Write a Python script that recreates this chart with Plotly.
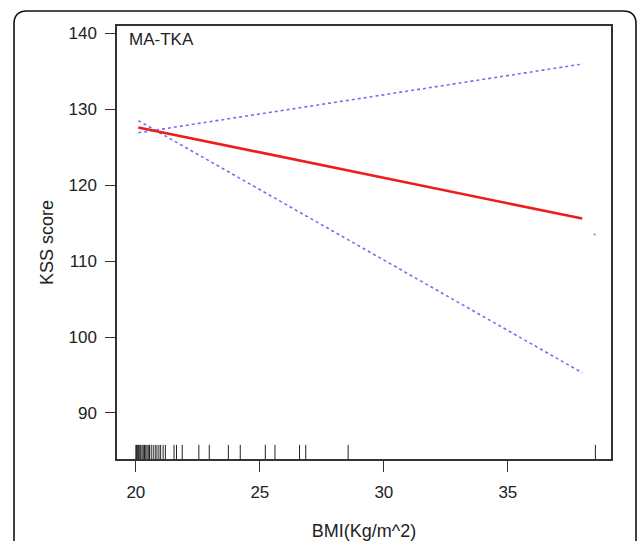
import plotly.graph_objects as go

# ---- data ----
fit_x = [20.1, 38.0]
fit_y = [127.6, 115.6]
upper_x = [20.1, 37.9]
upper_y = [126.9, 135.9]
lower_x = [20.1, 38.0]
lower_y = [128.5, 95.3]
point_x = [38.5]
point_y = [113.5]
rug_x = [20.0, 20.03, 20.06, 20.1, 20.13, 20.17, 20.2, 20.25, 20.3, 20.35, 20.4,
         20.45, 20.5, 20.55, 20.62, 20.7, 20.78, 20.85, 20.93, 21.0, 21.1, 21.19,
         21.54, 21.64, 21.87, 22.54, 22.96, 23.73, 24.21, 25.22, 25.61, 26.6,
         26.85, 28.56, 38.53]
x_ticks = [20, 25, 30, 35]
y_ticks = [90, 100, 110, 120, 130, 140]
label_text = "MA-TKA"
x_title = "BMI(Kg/m^2)"
y_title = "KSS score"

W, H = 638, 541
L, R, T, B = 117, 611, 26, 459
XR = [19.24, 39.16]
YR = [83.94, 140.96]
rug_top = 85.8

FONT = "Liberation Sans, Arial, sans-serif"

fig = go.Figure()

# rug
rx, ry = [], []
for v in rug_x:
    rx += [v, v, None]
    ry += [YR[0], rug_top, None]
fig.add_trace(go.Scatter(x=rx, y=ry, mode="lines",
                         line=dict(color="#222222", width=1), hoverinfo="skip"))

fig.add_trace(go.Scatter(x=upper_x, y=upper_y, mode="lines",
                         line=dict(color="#7070f0", width=1.6, dash="dot")))
fig.add_trace(go.Scatter(x=lower_x, y=lower_y, mode="lines",
                         line=dict(color="#7070f0", width=1.6, dash="dot")))
fig.add_trace(go.Scatter(x=fit_x, y=fit_y, mode="lines",
                         line=dict(color="#ee1c1c", width=2.6)))
fig.add_trace(go.Scatter(x=point_x, y=point_y, mode="markers",
                         marker=dict(color="#e06060", size=2)))

def px(x):
    return (x - L) / (R - L)

def py(y):
    return (B - y) / (B - T)

# outer rounded border
x0, x1, y0, y1, r = 14, 636, 11, 560, 13
path = (f"M {px(x0)},{py(y1)} L {px(x0)},{py(y0 + r)} "
        f"Q {px(x0)},{py(y0)} {px(x0 + r)},{py(y0)} "
        f"L {px(x1 - r)},{py(y0)} Q {px(x1)},{py(y0)} {px(x1)},{py(y0 + r)} "
        f"L {px(x1)},{py(y1)}")
fig.add_shape(type="path", path=path, xref="paper", yref="paper",
              line=dict(color="#111111", width=1.6), layer="below")

fig.add_annotation(text=label_text, xref="paper", yref="paper",
                   x=px(127), y=py(40), xanchor="left", yanchor="middle",
                   showarrow=False, font=dict(family=FONT, size=17, color="#222222"))

fig.update_layout(
    width=W, height=H,
    margin=dict(l=L, r=W - R, t=T, b=H - B, autoexpand=False),
    paper_bgcolor="white", plot_bgcolor="white",
    showlegend=False,
    font=dict(family=FONT, size=17, color="#222222"),
)
fig.update_xaxes(range=XR, tickvals=x_ticks, showgrid=False, zeroline=False,
                 automargin=False,
                 showline=True, linecolor="#333333", linewidth=1.5, mirror=True,
                 ticks="outside", ticklen=11, tickwidth=1.3, tickcolor="#333333",
                 ticklabelstandoff=6,
                 tickfont=dict(size=17, color="#222222"),
                 title=dict(text=x_title, font=dict(size=18, color="#222222"),
                            standoff=24))
fig.update_yaxes(range=YR, tickvals=y_ticks, showgrid=False, zeroline=False,
                 automargin=False,
                 showline=True, linecolor="#333333", linewidth=1.5, mirror=True,
                 ticks="outside", ticklen=10, tickwidth=1.3, tickcolor="#333333",
                 ticklabelstandoff=5,
                 tickfont=dict(size=17, color="#222222"),
                 title=dict(text=y_title, font=dict(size=18, color="#222222"),
                            standoff=10))

fig.write_html("out.html", config={"displayModeBar": False},
               post_script="document.body.style.margin='0';document.body.style.overflow='hidden';")
